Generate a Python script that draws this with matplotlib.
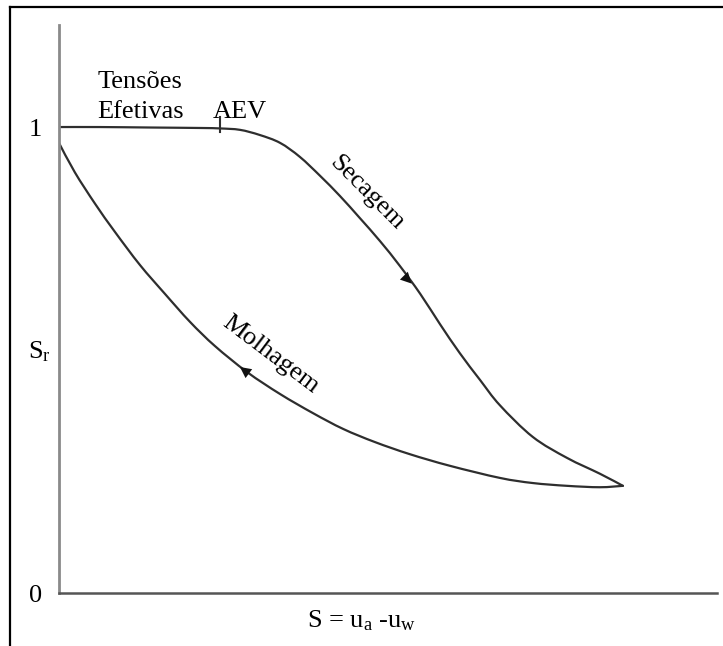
import matplotlib
matplotlib.use("Agg")
import matplotlib.pyplot as plt
from matplotlib.lines import Line2D
from matplotlib.path import Path
from matplotlib.patches import PathPatch

plt.rcParams['font.family'] = ['Liberation Serif', 'DejaVu Serif']
plt.rcParams['mathtext.fontset'] = 'custom'
plt.rcParams['mathtext.rm'] = 'Liberation Serif'
plt.rcParams['mathtext.it'] = 'Liberation Serif:italic'

# Drying branch (suction, degree of saturation)
drying_s = [0.00, 0.62, 1.38, 2.14, 2.45, 2.75, 3.05, 3.36, 3.66, 3.97, 4.27, 4.57,
            4.88, 5.18, 5.49, 5.79, 6.09, 6.40, 6.70, 7.20, 7.72, 8.22, 8.57]
drying_sr = [1.000, 1.000, 0.999, 0.998, 0.997, 0.994, 0.983, 0.966, 0.936, 0.895,
             0.852, 0.805, 0.755, 0.702, 0.642, 0.577, 0.515, 0.457, 0.403, 0.335,
             0.290, 0.256, 0.230]

# Wetting branch
wetting_s = [0.00, 0.24, 0.55, 0.85, 1.23, 1.61, 1.99, 2.37, 2.86, 3.36, 3.86, 4.32,
             4.80, 5.33, 5.94, 6.70, 7.20, 7.72, 8.22, 8.57]
wetting_sr = [0.966, 0.903, 0.835, 0.775, 0.704, 0.642, 0.582, 0.530, 0.474, 0.427,
              0.386, 0.352, 0.324, 0.298, 0.273, 0.247, 0.236, 0.230, 0.227, 0.230]

aev_s = 2.45
y_ticks = [0, 1]
y_tick_labels = ['0', '1']

curve_color = '#2e2e2e'
fs = 19


def smooth_path(xs, ys):
    """Bezier path passing through every point (Catmull-Rom tangents)."""
    pts = list(zip(xs, ys))
    verts = [pts[0]]
    codes = [Path.MOVETO]
    n = len(pts)
    for i in range(n - 1):
        p0 = pts[i - 1] if i > 0 else pts[i]
        p1 = pts[i]
        p2 = pts[i + 1]
        p3 = pts[i + 2] if i + 2 < n else pts[i + 1]
        c1 = (p1[0] + (p2[0] - p0[0]) / 6, p1[1] + (p2[1] - p0[1]) / 6)
        c2 = (p2[0] - (p3[0] - p1[0]) / 6, p2[1] - (p3[1] - p1[1]) / 6)
        verts += [c1, c2, p2]
        codes += [Path.CURVE4] * 3
    return Path(verts, codes)


fig = plt.figure(figsize=(7.23, 6.46), dpi=100)
fig.patch.set_facecolor('white')

# frame lines along the top and left edges
fig.add_artist(Line2D([10 / 723, 1.0], [1 - 7 / 646, 1 - 7 / 646],
                      transform=fig.transFigure, color='black', lw=1.6))
fig.add_artist(Line2D([10 / 723, 10 / 723], [0.0, 1 - 7 / 646],
                      transform=fig.transFigure, color='black', lw=1.6))

ax = fig.add_axes([59 / 723, 53 / 646, 658 / 723, 568 / 646])
ax.set_xlim(0, 10.0)
ax.set_ylim(0, 1.219)

for xs, ys in ((drying_s, drying_sr), (wetting_s, wetting_sr)):
    ax.add_patch(PathPatch(smooth_path(xs, ys), facecolor='none',
                           edgecolor=curve_color, lw=1.6, capstyle='round',
                           joinstyle='round'))

# air-entry value marker
ax.plot([aev_s, aev_s], [0.989, 1.021], color=curve_color, lw=1.5)

# direction arrows
arrow_kw = dict(arrowstyle='-|>', mutation_scale=20, color='#111111', lw=0,
                shrinkA=0, shrinkB=0)
ax.annotate('', xy=(5.36, 0.664), xytext=(5.15, 0.694), arrowprops=arrow_kw)
ax.annotate('', xy=(2.75, 0.485), xytext=(2.95, 0.464), arrowprops=arrow_kw)

# axes styling
for side in ('top', 'right'):
    ax.spines[side].set_visible(False)
ax.spines['left'].set_color('#8a8a8a')
ax.spines['left'].set_linewidth(2.0)
ax.spines['bottom'].set_color('#555555')
ax.spines['bottom'].set_linewidth(1.8)
ax.set_xticks([])
ax.set_yticks(y_ticks)
ax.set_yticklabels(y_tick_labels, fontsize=fs)
ax.tick_params(axis='y', length=0, pad=12)

# annotations
ax.text(0.58, 1.084, 'Tensões', fontsize=fs, ha='left', va='baseline')
ax.text(0.58, 1.019, 'Efetivas', fontsize=fs, ha='left', va='baseline')
ax.text(2.33, 1.019, 'AEV', fontsize=fs, ha='left', va='baseline')
ax.text(4.68, 0.858, 'Secagem', fontsize=fs, ha='center', va='center',
        rotation=-45, rotation_mode='anchor')
ax.text(3.21, 0.511, 'Molhagem', fontsize=fs, ha='center', va='center',
        rotation=-37, rotation_mode='anchor')
ax.text(-0.29, 0.517, 'S$_\\mathrm{r}$', fontsize=fs, ha='center', va='center')
ax.text(4.6, -0.032, 'S = u$_\\mathrm{a}$ -u$_\\mathrm{w}$', fontsize=fs,
        ha='center', va='top')

fig.savefig('out.png', dpi=100, facecolor='white')
